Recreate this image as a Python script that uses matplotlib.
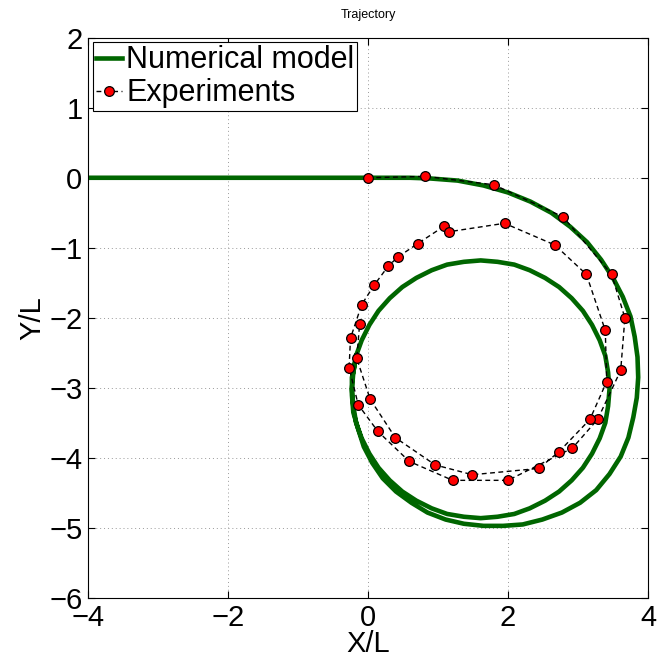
import matplotlib
matplotlib.use("Agg")
import matplotlib.pyplot as plt

plt.rcParams['font.family'] = ['Liberation Sans', 'DejaVu Sans']

# numerical model trajectory:
# straight approach, first (wider) loop, then the settled loop
model_x = [-4.00, 0.00, 0.60,
           0.89, 1.28, 1.65, 2.00, 2.32, 2.62, 2.89, 3.13, 3.33, 3.50, 3.64, 3.75,
           3.81, 3.85, 3.86, 3.84, 3.79, 3.72, 3.61, 3.45, 3.26, 3.03, 2.77, 2.49,
           2.21, 1.93, 1.65, 1.37, 1.11, 0.85, 0.62, 0.40, 0.21, 0.06, -0.06, -0.14,
           -0.21, -0.23, -0.23,
           -0.21, -0.17, -0.09, 0.02, 0.15, 0.31, 0.49, 0.69, 0.91, 1.13, 1.37, 1.61,
           1.85, 2.09, 2.31, 2.53, 2.73, 2.91, 3.07, 3.20, 3.31, 3.39, 3.43, 3.45,
           3.43, 3.39, 3.31, 3.20, 3.07, 2.91, 2.73, 2.53, 2.31, 2.09, 1.85, 1.61,
           1.37, 1.13, 0.91, 0.69, 0.49, 0.31, 0.15, 0.02, -0.09, -0.17, -0.21, -0.23,
           -0.21, -0.17]
model_y = [0.00, 0.00, 0.00,
           -0.01, -0.04, -0.11, -0.21, -0.34, -0.50, -0.70, -0.92, -1.17, -1.43, -1.70, -1.98,
           -2.27, -2.56, -2.85, -3.14, -3.42, -3.71, -3.98, -4.23, -4.46, -4.64, -4.78, -4.88,
           -4.95, -4.97, -4.97, -4.94, -4.88, -4.78, -4.64, -4.48, -4.29, -4.07, -3.84, -3.59,
           -3.35, -3.10, -2.85,
           -2.78, -2.54, -2.32, -2.10, -1.90, -1.72, -1.56, -1.43, -1.32, -1.24, -1.20, -1.18,
           -1.20, -1.24, -1.32, -1.43, -1.56, -1.72, -1.90, -2.10, -2.32, -2.54, -2.78, -3.02,
           -3.26, -3.50, -3.72, -3.94, -4.14, -4.32, -4.48, -4.61, -4.72, -4.80, -4.84, -4.86,
           -4.84, -4.80, -4.72, -4.61, -4.48, -4.32, -4.14, -3.94, -3.72, -3.50, -3.26, -3.02,
           -2.78, -2.54]

# experimental points, in order along the path
exp_x = [0.00, 0.82, 1.80, 2.79, 3.48, 3.67, 3.61, 3.28, 2.92, 2.00, 1.21, 0.59,
         0.14, -0.14, -0.27, -0.25, -0.09, 0.09, 0.29, 0.43, 0.71, 1.09, 1.16, 1.95,
         2.67, 3.12, 3.39, 3.41, 3.17, 2.73, 2.44, 1.49, 0.96, 0.39, 0.03, -0.16, -0.12]
exp_y = [0.00, 0.02, -0.10, -0.56, -1.38, -2.00, -2.75, -3.45, -3.86, -4.32, -4.32, -4.05,
         -3.62, -3.24, -2.71, -2.29, -1.81, -1.53, -1.26, -1.13, -0.94, -0.69, -0.77, -0.65,
         -0.96, -1.38, -2.18, -2.91, -3.45, -3.91, -4.15, -4.24, -4.10, -3.71, -3.16, -2.58, -2.09]

x_ticks = [-4, -2, 0, 2, 4]
y_ticks = [-6, -5, -4, -3, -2, -1, 0, 1, 2]

fig = plt.figure(figsize=(6.58, 6.62), dpi=100)
ax = fig.add_axes([88 / 658, 1 - 598 / 662, 560 / 658, 560.3 / 662])

ax.plot(model_x, model_y, '-', color='#006600', linewidth=3.3,
        solid_joinstyle='round', label='Numerical model')
ax.plot(exp_x, exp_y, 'o--', color='black', linewidth=1.0, dashes=(3.5, 2.5),
        markerfacecolor='red', markeredgecolor='black', markersize=7,
        markeredgewidth=0.9, label='Experiments')

ax.set_xlim(-4, 4)
ax.set_ylim(-6, 2)
ax.set_xticks(x_ticks)
ax.set_yticks(y_ticks)
ax.set_xticklabels([f"{v}".replace('-', '\u2212') for v in x_ticks])
ax.set_yticklabels([f"{v}".replace('-', '\u2212') for v in y_ticks])
ax.tick_params(direction='in', top=True, right=True, length=5, width=0.8,
               labelsize=21, pad=4)
ax.grid(True, linestyle=(0, (1, 3)), color='#999999', linewidth=0.7)
for s in ax.spines.values():
    s.set_linewidth(0.8)

ax.set_xlabel('X/L', fontsize=21, labelpad=-1)
ax.set_ylabel('Y/L', fontsize=21, labelpad=2)
ax.set_title('Trajectory', fontsize=9, pad=14)

leg = ax.legend(loc='upper left', fontsize=22, fancybox=False, edgecolor='black',
                framealpha=1, handlelength=0.85, handletextpad=0.15, borderpad=0.1,
                labelspacing=0.1, borderaxespad=0.15)
leg.get_frame().set_linewidth(0.8)

fig.savefig('out.png', dpi=100)
